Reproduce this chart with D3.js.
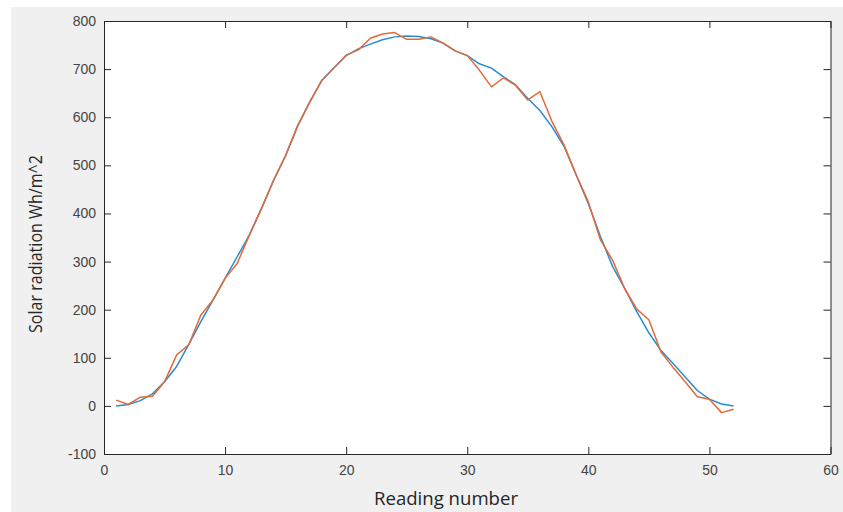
<!DOCTYPE html>
<html>
<head>
<meta charset="utf-8">
<script src="https://cdn.jsdelivr.net/npm/d3@7"></script>
<style>
  html, body { margin: 0; padding: 0; background: #ffffff; }
  svg { display: block; }
</style>
</head>
<body>
<svg id="chart" width="843" height="512"></svg>
<script>
// ---- data ----
const readings = d3.range(1, 53);
const fittedValues = [0, 3, 11, 25, 50, 82, 128, 175, 220, 265, 310, 355, 410, 468, 520, 582, 632, 677, 703, 728,
  742, 752, 761, 767, 769, 768, 763, 754, 738, 728, 711, 702, 684, 667, 639, 614, 580, 539, 480, 420,
  352, 290, 244, 196, 152, 115, 88, 60, 32, 14, 4, 0];
const measuredValues = [12, 3, 18, 20, 50, 106, 127, 189, 220, 265, 296, 355, 410, 469, 521, 583, 632, 677, 703, 729,
  740, 764, 773, 776, 762, 762, 767, 754, 738, 728, 698, 663, 682, 666, 636, 653, 591, 542, 480, 424,
  345, 303, 244, 201, 179, 112, 80, 50, 19, 14, -14, -7];
const xTicks = [0, 10, 20, 30, 40, 50, 60];
const yTicks = [-100, 0, 100, 200, 300, 400, 500, 600, 700, 800];
const xLabel = "Reading number";
const yLabel = "Solar radiation Wh/m^2";

// ---- layout ----
const svg = d3.select("#chart");
const L = 104, R = 830.5, T = 21, B = 454;
const x = d3.scaleLinear().domain([0, 60]).range([L, R]);
const y = d3.scaleLinear().domain([-100, 800]).range([B, T]);

svg.append("rect").attr("x", 11).attr("y", 7).attr("width", 843 - 11).attr("height", 512 - 7).attr("fill", "#f0f0f0");
svg.append("rect").attr("x", L).attr("y", T).attr("width", R - L).attr("height", B - T).attr("fill", "#ffffff");

const axisColor = "#262626";
const tickFont = "'Liberation Sans', Arial, sans-serif";
const fmt = d => String(d);

function styleAxis(g) {
  g.selectAll("path.domain").attr("stroke", axisColor).attr("stroke-width", 1);
  g.selectAll(".tick line").attr("stroke", axisColor).attr("stroke-width", 1);
  g.selectAll(".tick text").attr("fill", "#444444").style("font-family", tickFont).style("font-size", "14px");
}

svg.append("g").attr("transform", `translate(0,${B})`)
  .call(d3.axisBottom(x).tickValues(xTicks).tickFormat(fmt).tickSize(-7).tickSizeOuter(0).tickPadding(11))
  .call(styleAxis);
svg.append("g").attr("transform", `translate(0,${T})`)
  .call(d3.axisTop(x).tickValues(xTicks).tickSize(-7).tickSizeOuter(0).tickFormat(""))
  .call(styleAxis);
svg.append("g").attr("transform", `translate(${L},0)`)
  .call(d3.axisLeft(y).tickValues(yTicks).tickFormat(fmt).tickSize(-7).tickSizeOuter(0).tickPadding(8))
  .call(styleAxis);
svg.append("g").attr("transform", `translate(${R},0)`)
  .call(d3.axisRight(y).tickValues(yTicks).tickSize(-7).tickSizeOuter(0).tickFormat(""))
  .call(styleAxis);

// ---- lines ----
const line = d3.line().x((d, i) => x(readings[i])).y(d => y(d));
svg.append("path").datum(fittedValues).attr("d", line)
  .attr("fill", "none").attr("stroke", "#2a8bd2").attr("stroke-width", 1.5).attr("stroke-linejoin", "round");
svg.append("path").datum(measuredValues).attr("d", line)
  .attr("fill", "none").attr("stroke", "#e36a36").attr("stroke-width", 1.5).attr("stroke-linejoin", "round");

// ---- labels ----
svg.append("text").attr("x", 446).attr("y", 505).attr("text-anchor", "middle")
  .style("font-family", "'Open Sans', sans-serif").style("font-size", "18px").attr("fill", "#262626")
  .attr("textLength", 144).attr("lengthAdjust", "spacingAndGlyphs")
  .text(xLabel);
svg.append("text").attr("transform", `translate(42,244) rotate(-90)`).attr("text-anchor", "middle")
  .style("font-family", "'Open Sans', sans-serif").style("font-size", "18px").attr("fill", "#262626")
  .attr("textLength", 178).attr("lengthAdjust", "spacingAndGlyphs")
  .text(yLabel);
</script>
</body>
</html>
